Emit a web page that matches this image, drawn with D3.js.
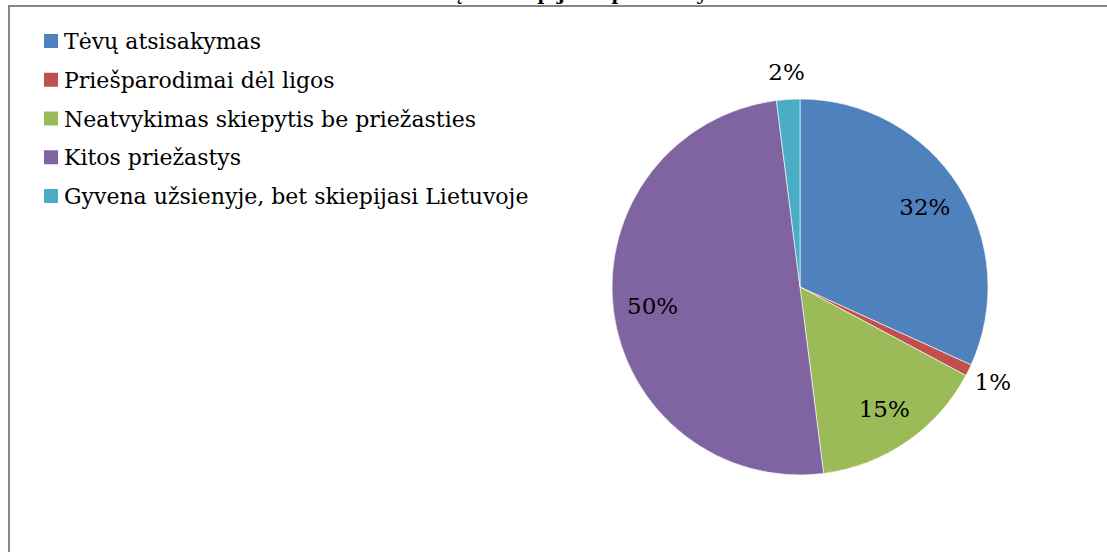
<!DOCTYPE html>
<html>
<head>
<meta charset="utf-8">
<script src="https://cdn.jsdelivr.net/npm/d3@7"></script>
<style>
  body { margin: 0; background: #fff; }
  text { font-family: "DejaVu Serif", serif; fill: #000; }
</style>
</head>
<body>
<script>
'use strict';

// chart data
const categories = [
  "Tėvų atsisakymas",
  "Priešparodimai dėl ligos",
  "Neatvykimas skiepytis be priežasties",
  "Kitos priežastys",
  "Gyvena užsienyje, bet skiepijasi Lietuvoje"
];
const shares = [31.8, 1.0, 15.2, 50.0, 2.0];
const shareLabels = ["32%", "1%", "15%", "50%", "2%"];
const sliceColors = ["#4F81BD", "#C0504D", "#9BBB59", "#8064A2", "#4BACC6"];
const title = "Vaikų neskiepijimo priežastys";

const W = 1107, H = 552;

const svg = d3.select('body')
  .append('svg')
  .attr('width', W)
  .attr('height', H);

// chart frame (only left and top edges show inside the crop)
svg.append('rect')
  .attr('x', 9)
  .attr('y', 6)
  .attr('width', W + 20)
  .attr('height', H + 20)
  .attr('fill', 'none')
  .attr('stroke', '#868686')
  .attr('stroke-width', 2);

// title sits mostly above the top edge, as in the source crop
svg.append('text')
  .attr('x', 560)
  .attr('y', 0)
  .attr('text-anchor', 'middle')
  .style('font-size', '19px')
  .style('font-weight', 'bold')
  .text(title);

// legend
const legend = svg.append('g').attr('transform', 'translate(44, 0)');
const rowY = d3.scalePoint()
  .domain(categories)
  .range([41, 196]);

legend.selectAll('rect')
  .data(categories)
  .enter()
  .append('rect')
  .attr('x', 0)
  .attr('y', (d) => rowY(d) - 7)
  .attr('width', 14)
  .attr('height', 14)
  .attr('fill', (d, i) => sliceColors[i]);

legend.selectAll('text')
  .data(categories)
  .enter()
  .append('text')
  .attr('x', 20)
  .attr('y', (d) => rowY(d) + 8)
  .style('font-size', '22px')
  .text((d) => d);

// pie
const cx = 800, cy = 287, r = 188;
const pie = d3.pie().sort(null).value((d) => d.v);
const slices = pie(shares.map((v, i) => ({ v: v, i: i })));
const arc = d3.arc().innerRadius(0).outerRadius(r);
const inner = d3.arc().innerRadius(r * 0.79).outerRadius(r * 0.79);
const outer = d3.arc().innerRadius(r + 27).outerRadius(r + 27);

const g = svg.append('g').attr('transform', `translate(${cx}, ${cy})`);

g.selectAll('path')
  .data(slices)
  .enter()
  .append('path')
  .attr('d', arc)
  .attr('fill', (d) => sliceColors[d.data.i])
  .attr('stroke', '#ffffff')
  .attr('stroke-width', 0.6);

g.selectAll('text')
  .data(slices)
  .enter()
  .append('text')
  .attr('transform', (d) => {
    const p = d.data.v < 5 ? outer.centroid(d) : inner.centroid(d);
    return `translate(${p[0]}, ${p[1]})`;
  })
  .attr('text-anchor', 'middle')
  .attr('dominant-baseline', 'central')
  .style('font-size', '23px')
  .text((d) => shareLabels[d.data.i]);
</script>
</body>
</html>
